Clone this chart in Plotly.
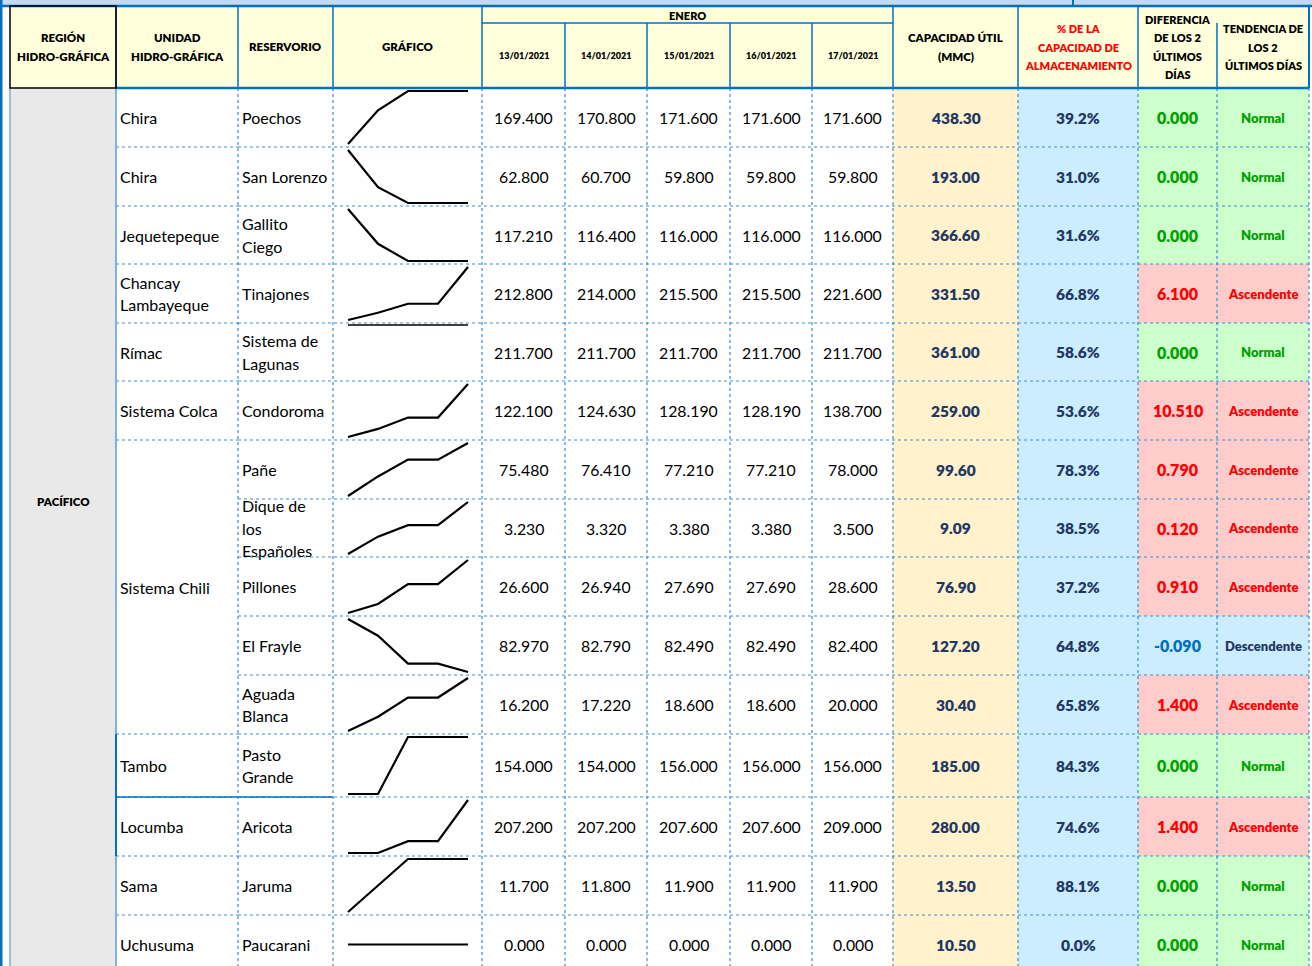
import plotly.graph_objects as go

# ---------------- DATA ----------------
region = "PACÍFICO"
unidades = ["Chira", "Chira", "Jequetepeque", "Chancay<br>Lambayeque", "Rímac",
            "Sistema Colca", "Sistema Chili", "Tambo", "Locumba", "Sama", "Uchusuma"]
unidad_span = [1, 1, 1, 1, 1, 1, 5, 1, 1, 1, 1]
reservorios = ["Poechos", "San Lorenzo", "Gallito<br>Ciego", "Tinajones", "Sistema de<br>Lagunas",
               "Condoroma", "Pañe", "Dique de<br>los<br>Españoles", "Pillones", "El Frayle",
               "Aguada<br>Blanca", "Pasto<br>Grande", "Aricota", "Jaruma", "Paucarani"]
fechas = ["13/01/2021", "14/01/2021", "15/01/2021", "16/01/2021", "17/01/2021"]
d13 = [169.400, 62.800, 117.210, 212.800, 211.700, 122.100, 75.480, 3.230, 26.600, 82.970, 16.200, 154.000, 207.200, 11.700, 0.000]
d14 = [170.800, 60.700, 116.400, 214.000, 211.700, 124.630, 76.410, 3.320, 26.940, 82.790, 17.220, 154.000, 207.200, 11.800, 0.000]
d15 = [171.600, 59.800, 116.000, 215.500, 211.700, 128.190, 77.210, 3.380, 27.690, 82.490, 18.600, 156.000, 207.600, 11.900, 0.000]
d16 = [171.600, 59.800, 116.000, 215.500, 211.700, 128.190, 77.210, 3.380, 27.690, 82.490, 18.600, 156.000, 207.600, 11.900, 0.000]
d17 = [171.600, 59.800, 116.000, 221.600, 211.700, 138.700, 78.000, 3.500, 28.600, 82.400, 20.000, 156.000, 209.000, 11.900, 0.000]
capacidad = [438.30, 193.00, 366.60, 331.50, 361.00, 259.00, 99.60, 9.09, 76.90, 127.20, 30.40, 185.00, 280.00, 13.50, 10.50]
porcentaje = [39.2, 31.0, 31.6, 66.8, 58.6, 53.6, 78.3, 38.5, 37.2, 64.8, 65.8, 84.3, 74.6, 88.1, 0.0]
diferencia = [0.000, 0.000, 0.000, 6.100, 0.000, 10.510, 0.790, 0.120, 0.910, -0.090, 1.400, 0.000, 1.400, 0.000, 0.000]
tendencia = ["Normal", "Normal", "Normal", "Ascendente", "Normal", "Ascendente", "Ascendente", "Ascendente",
             "Ascendente", "Descendente", "Ascendente", "Normal", "Ascendente", "Normal", "Normal"]

series = [d13, d14, d15, d16, d17]

# ---------------- LAYOUT / STYLE ----------------
W, H = 1312, 966
FONT = "Lato"
BOLD_W = 800
col_edges = [10, 116, 238, 333, 482, 565, 647, 730, 812, 893, 1018, 1138, 1217, 1309]
row_edges = [88, 147, 206, 264, 323, 381, 440, 499, 557, 616, 675, 734, 797, 856, 915, 974]
HDR_TOP, HDR_MID, HDR_BOT = 6, 23, 88

BLUE = "#0070C0"
DOT = "#3C8DD0"
NAVY = "#1F3864"
HDR_BG = "#FFFFDC"
tend_bg = {"Normal": "#CCFFCC", "Ascendente": "#FFCCCC", "Descendente": "#CCECFF"}
tend_fg = {"Normal": "#00A000", "Ascendente": "#FF0000", "Descendente": NAVY}
diff_fg = {"Normal": "#00A000", "Ascendente": "#FF0000", "Descendente": BLUE}

shapes = []
annotations = []


def rect(x0, y0, x1, y1, fill, line_color=None, lw=0, layer="below"):
    shapes.append(dict(type="rect", xref="x", yref="y", x0=x0, y0=y0, x1=x1, y1=y1,
                       fillcolor=fill, line=dict(color=line_color or fill, width=lw), layer=layer))


def line(x0, y0, x1, y1, color, width=1, dash="solid", layer="above"):
    shapes.append(dict(type="line", xref="x", yref="y", x0=x0, y0=y0, x1=x1, y1=y1,
                       line=dict(color=color, width=width, dash=dash), layer=layer))


def text(x, y, s, size=15, color="black", bold=False, xanchor="center", lh=None):
    parts = s.split("<br>")
    n = len(parts)
    if lh is None:
        lh = size * 1.45
    for i, p in enumerate(parts):
        yy = y + (i - (n - 1) / 2) * lh
        annotations.append(dict(x=x, y=yy, xref="x", yref="y", text=p,
                                showarrow=False, xanchor=xanchor, yanchor="middle",
                                font=dict(family=FONT, size=size, color=color,
                                          weight=BOLD_W if bold else 400)))


# top strip
rect(0, 0, W, HDR_TOP, "#C5D9F1")
line(0, HDR_TOP, W, HDR_TOP, BLUE, 2.5)
line(1073, 0, 1073, HDR_TOP, BLUE, 2)

# header backgrounds
rect(col_edges[0], HDR_TOP, col_edges[-1], HDR_BOT, HDR_BG)

# body column backgrounds
body_top, body_bot = row_edges[0], H
rect(col_edges[0], body_top, col_edges[1], body_bot, "#E9E9E9")
rect(col_edges[1], body_top, col_edges[9], body_bot, "white")
rect(col_edges[9], body_top, col_edges[10], body_bot, "#FFF2CC")
rect(col_edges[10], body_top, col_edges[11], body_bot, "#CCECFF")
for i, t in enumerate(tendencia):
    rect(col_edges[11], row_edges[i], col_edges[13], row_edges[i + 1], tend_bg[t])

# dotted grid (body)
for i in range(len(reservorios)):
    y = row_edges[i + 1]
    line(col_edges[2], y, col_edges[13], y, DOT, 1.2, "dot")
r = 0
for sp in unidad_span:
    r += sp
    line(col_edges[1], row_edges[r], col_edges[2], row_edges[r], DOT, 1.2, "dot")
line(col_edges[1], row_edges[12], col_edges[3], row_edges[12], BLUE, 1.5)
for x in col_edges[2:13]:
    line(x, body_top, x, body_bot, DOT, 1.2, "dot")
line(col_edges[13], body_top, col_edges[13], body_bot, DOT, 1.2, "dot")
line(col_edges[1], body_top, col_edges[1], body_bot, "#5B9BD5", 1.5)
line(col_edges[1], row_edges[11], col_edges[1], row_edges[13], BLUE, 2)
line(col_edges[0], body_top, col_edges[0], body_bot, "#5B9BD5", 1.2)

# header borders
for k, x in enumerate(col_edges[1:], start=1):
    if k in (5, 6, 7, 8, 12):
        line(x, HDR_MID, x, HDR_BOT, BLUE, 1.5)
    else:
        line(x, HDR_TOP, x, HDR_BOT, BLUE, 1.5)
line(col_edges[4], HDR_MID, col_edges[9], HDR_MID, BLUE, 1.5)
line(col_edges[1], HDR_BOT, col_edges[-1], HDR_BOT, BLUE, 2.5)
line(col_edges[-1], HDR_TOP, col_edges[-1], HDR_BOT, BLUE, 2)
rect(col_edges[0], HDR_TOP, col_edges[1], HDR_BOT, "rgba(0,0,0,0)", "black", 1.5, layer="above")

# left outer border
line(1, 0, 1, H, BLUE, 3)

# header texts
hy = (HDR_TOP + HDR_BOT) / 2
cx = [(col_edges[i] + col_edges[i + 1]) / 2 for i in range(len(col_edges) - 1)]
text(cx[0], hy, "REGIÓN<br>HIDRO-GRÁFICA", 11.5, bold=True, lh=19)
text(cx[1], hy, "UNIDAD<br>HIDRO-GRÁFICA", 11.5, bold=True, lh=19)
text(cx[2], hy - 1, "RESERVORIO", 11.5, bold=True)
text(cx[3], hy - 1, "GRÁFICO", 11.5, bold=True)
text((col_edges[4] + col_edges[9]) / 2, 15, "ENERO", 11, bold=True)
for j, f in enumerate(fechas):
    text(cx[4 + j], 55, f, 9, bold=True)
text(cx[9], hy, "CAPACIDAD ÚTIL<br>(MMC)", 11.5, bold=True, lh=19)
text(cx[10], hy, "% DE LA<br>CAPACIDAD DE<br>ALMACENAMIENTO", 11, color="#FF0000", bold=True, lh=18.5)
text(cx[11], hy, "DIFERENCIA<br>DE LOS 2<br>ÚLTIMOS<br>DÍAS", 11, bold=True, lh=18.5)
text(cx[12], hy, "TENDENCIA DE<br>LOS 2<br>ÚLTIMOS DÍAS", 11, bold=True, lh=18.5)

# region text
text(cx[0], 501, region, 11.5, bold=True)

# unidad texts
r = 0
for u, sp in zip(unidades, unidad_span):
    yc = (row_edges[r] + row_edges[r + sp]) / 2
    text(col_edges[1] + 1.5, yc, u, 16, xanchor="left", lh=22.5)
    r += sp

# rows
spark_x = [348, 378, 408, 438, 468]
traces = []
for i, res in enumerate(reservorios):
    top, bot = row_edges[i], row_edges[i + 1]
    yc = (top + bot) / 2
    text(col_edges[2] + 1.5, yc, res, 16, xanchor="left", lh=22.5)
    vals = [s[i] for s in series]
    for j, v in enumerate(vals):
        text(cx[4 + j], yc, f"{v:.3f}", 15.8)
    text(cx[9], yc, f"{capacidad[i]:.2f}", 15.5, color=NAVY, bold=True)
    text(cx[10], yc, f"{porcentaje[i]:.1f}%", 15.5, color=NAVY, bold=True)
    text(cx[11], yc, f"{diferencia[i]:.3f}", 16, color=diff_fg[tendencia[i]], bold=True)
    text(cx[12], yc, tendencia[i], 13, color=tend_fg[tendencia[i]], bold=True)

    vmin, vmax = min(vals), max(vals)
    y_lo, y_hi = bot - 3, top + 3
    if vmax > vmin:
        ys = [y_lo - (v - vmin) / (vmax - vmin) * (y_lo - y_hi) for v in vals]
        lw = 2.2
    else:
        ys = [yc if vmin == 0 else top + 2] * len(vals)
        lw = 2.2 if vmin == 0 else 1.3
    traces.append(go.Scatter(x=spark_x, y=ys, mode="lines", line=dict(color="black", width=lw),
                             hoverinfo="skip", showlegend=False))

fig = go.Figure(traces)
fig.update_layout(
    width=W, height=H, margin=dict(l=0, r=0, t=0, b=0),
    paper_bgcolor="white", plot_bgcolor="white",
    xaxis=dict(range=[0, W], visible=False, fixedrange=True),
    yaxis=dict(range=[H, 0], visible=False, fixedrange=True),
    shapes=shapes, annotations=annotations, showlegend=False,
)
fig.write_html("out.html", config={"displayModeBar": False, "staticPlot": True},
               post_script="document.body.style.margin='0';document.body.style.overflow='hidden';")
